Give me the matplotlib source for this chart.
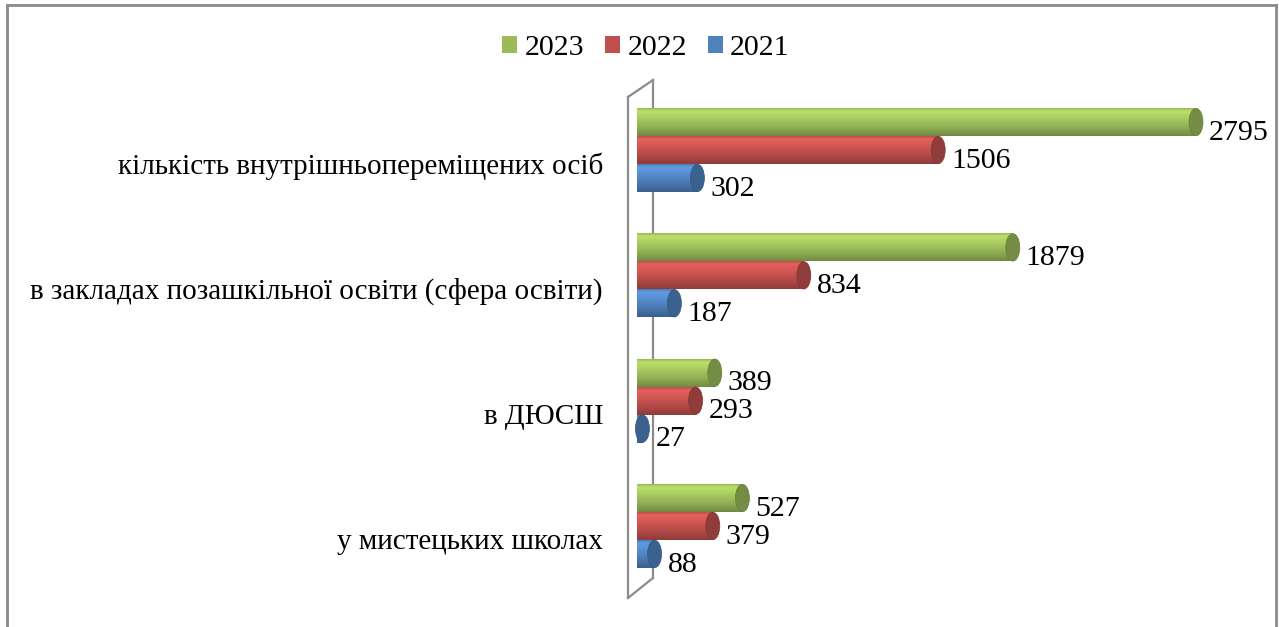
import numpy as np
import matplotlib
matplotlib.use("Agg")
import matplotlib.pyplot as plt
from matplotlib.patches import Ellipse, Patch
from matplotlib.lines import Line2D
from matplotlib import transforms

plt.rcParams['font.family'] = ['Liberation Serif', 'DejaVu Serif']

# data (top category first)
categories = [
    "кількість внутрішньопереміщених осіб",
    "в закладах позашкільної освіти (сфера освіти)",
    "в ДЮСШ",
    "у мистецьких школах",
]
years = ["2023", "2022", "2021"]
v2023 = [2795, 1879, 389, 527]
v2022 = [1506, 834, 293, 379]
v2021 = [302, 187, 27, 88]

colors = {"2023": "#9BBB59", "2022": "#C0504D", "2021": "#4F81BD"}
series = {"2023": v2023, "2022": v2022, "2021": v2021}

W, H = 1279, 627
fig = plt.figure(figsize=(W / 100, H / 100), dpi=100)

# axes placed in pixel terms
ax_l, ax_r, ax_t, ax_b = 628, 1276, 80, 598
ax = fig.add_axes([ax_l / W, 1 - ax_b / H, (ax_r - ax_l) / W, (ax_b - ax_t) / H])
ax.set_axis_off()

px_x = 0.2          # pixels per data unit
x0_px = 637
xlim = ((ax_l - x0_px) / px_x, (ax_r - x0_px) / px_x)
px_y = 125.33
ylim = (-(ax_b - 526) / px_y, 3 + (150 - ax_t) / px_y)

bar_h = 0.223
offsets = {"2023": bar_h, "2022": 0.0, "2021": -bar_h}
cap_w = 14 / px_x


def shade(hexcol, n=80):
    base = np.array(matplotlib.colors.to_rgb(hexcol))
    t = np.linspace(0, 1, n)
    f = np.interp(t, [0, 0.1, 0.3, 0.65, 1.0], [0.97, 1.2, 1.12, 0.95, 0.74])
    col = np.clip(base[None, :] * f[:, None], 0, 1)
    return col[:, None, :]


ypos = np.arange(len(categories))[::-1]
for yr in years:
    grad = shade(colors[yr])
    cap = np.clip(np.array(matplotlib.colors.to_rgb(colors[yr])) * 0.75, 0, 1)
    for yc, val in zip(ypos, series[yr]):
        y = yc + offsets[yr]
        ax.imshow(grad, extent=[0, val, y - bar_h / 2, y + bar_h / 2],
                  aspect='auto', origin='upper', zorder=2, interpolation='bilinear')
        ax.add_patch(Ellipse((val, y), cap_w, bar_h * 0.98, facecolor=cap,
                             edgecolor=cap * 0.9, lw=0.5, zorder=2.1))
        ax.text(val + 65, y - 0.085, str(val), fontsize=21.5, va='center',
                ha='left', zorder=3)

ax.set_xlim(*xlim)
ax.set_ylim(*ylim)

# category labels
trans = transforms.blended_transform_factory(fig.transFigure, ax.transData)
for yc, name in zip(ypos, categories):
    ax.text(603 / W, yc - 0.13, name, fontsize=21, ha='right', va='center',
            transform=trans)


def fpt(x, y):
    return x / W, 1 - y / H


# wall outline
wall_col = "#8c8c8c"
segs = [((628, 97), (628, 598)), ((653, 80), (653, 578)),
        ((628, 97), (653, 80)), ((628, 598), (653, 578))]
for a, b in segs:
    (x1, y1), (x2, y2) = fpt(*a), fpt(*b)
    ax.add_line(Line2D([x1, x2], [y1, y2], transform=fig.transFigure, color=wall_col,
                       lw=1.6, zorder=0.5, clip_on=False))

# outer border
for a, b in [((7, 5), (7, 627)), ((7, 5), (1276, 5)), ((1276, 5), (1276, 627))]:
    (x1, y1), (x2, y2) = fpt(*a), fpt(*b)
    fig.add_artist(Line2D([x1, x2], [y1, y2], transform=fig.transFigure,
                          color="#8a8a8a", lw=2))

handles = [Patch(facecolor=colors[yr], edgecolor='none') for yr in years]
fig.legend(handles, years, loc='center', bbox_to_anchor=(0.505, 1 - 48 / H), ncol=3,
           frameon=False, fontsize=21.5, handlelength=0.5, handleheight=0.5,
           handletextpad=0.25, columnspacing=0.7)

fig.savefig("out.png", dpi=100)
